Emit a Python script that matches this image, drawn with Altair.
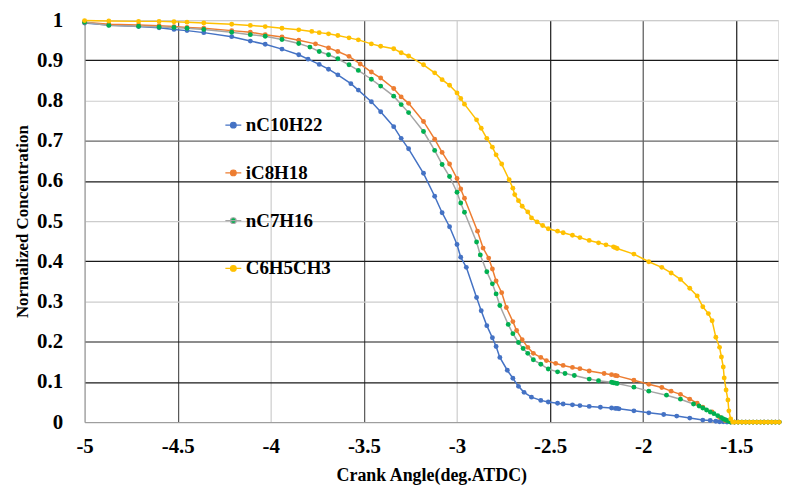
import altair as alt
import pandas as pd

series_names = ["nC10H22", "iC8H18", "nC7H16", "C6H5CH3"]
line_colors = ["#4472C4", "#ED7D31", "#A5A5A5", "#FFC000"]
point_colors = ["#4472C4", "#ED7D31", "#00B050", "#FFC000"]

nc10_x = [-5.0, -4.87, -4.71, -4.60, -4.52, -4.45, -4.36, -4.21, -4.11, -4.03,
          -3.94, -3.85, -3.80, -3.74, -3.69, -3.64, -3.57, -3.53, -3.46, -3.41,
          -3.34, -3.30, -3.26, -3.18, -3.12, -3.08, -3.04, -3.00, -2.98, -2.95,
          -2.895, -2.87, -2.84, -2.81, -2.79, -2.77, -2.73, -2.70, -2.67, -2.64,
          -2.60, -2.55, -2.51, -2.46, -2.43, -2.38, -2.34, -2.29, -2.23, -2.17,
          -2.15, -2.14, -2.13, -2.05, -1.97, -1.89, -1.82, -1.75, -1.68, -1.64,
          -1.61, -1.59, -1.57, -1.55, -1.53]
nc10_y = [0.993, 0.988, 0.984, 0.981, 0.977, 0.974, 0.969, 0.959, 0.948, 0.940,
          0.928, 0.914, 0.903, 0.890, 0.878, 0.864, 0.842, 0.826, 0.797, 0.772,
          0.735, 0.706, 0.680, 0.619, 0.562, 0.521, 0.486, 0.442, 0.410, 0.385,
          0.310, 0.277, 0.240, 0.210, 0.188, 0.161, 0.129, 0.109, 0.089, 0.074,
          0.062, 0.054, 0.050, 0.047, 0.045, 0.043, 0.041, 0.039, 0.037, 0.035,
          0.034, 0.034, 0.033, 0.028, 0.023, 0.019, 0.015, 0.010, 0.005, 0.004,
          0.002, 0.001, 0.001, 0.0, 0.0]

ic8_x = [-5.0, -4.87, -4.71, -4.60, -4.52, -4.45, -4.36, -4.21, -4.11, -4.03,
         -3.94, -3.85, -3.76, -3.69, -3.64, -3.58, -3.52, -3.46, -3.41, -3.34,
         -3.30, -3.26, -3.18, -3.12, -3.08, -3.04, -3.00, -2.98, -2.96, -2.89,
         -2.86, -2.83, -2.81, -2.79, -2.76, -2.735, -2.70, -2.68, -2.65, -2.62,
         -2.59, -2.55, -2.52, -2.47, -2.43, -2.38, -2.34, -2.29, -2.21, -2.17,
         -2.15, -2.14, -2.05, -1.97, -1.90, -1.85, -1.80, -1.75, -1.71, -1.68,
         -1.63, -1.59, -1.56, -1.53]
ic8_y = [0.995, 0.990, 0.988, 0.986, 0.984, 0.982, 0.980, 0.974, 0.970, 0.964,
         0.958, 0.950, 0.941, 0.931, 0.922, 0.910, 0.891, 0.871, 0.856, 0.830,
         0.809, 0.793, 0.748, 0.704, 0.671, 0.642, 0.606, 0.580, 0.557, 0.475,
         0.433, 0.408, 0.381, 0.351, 0.322, 0.285, 0.250, 0.228, 0.205, 0.186,
         0.171, 0.161, 0.153, 0.146, 0.141, 0.136, 0.133, 0.127, 0.121, 0.118,
         0.116, 0.115, 0.104, 0.094, 0.086, 0.077, 0.069, 0.057, 0.047, 0.037,
         0.025, 0.012, 0.004, 0.0]

nc7_x = [-5.0, -4.87, -4.71, -4.60, -4.52, -4.45, -4.36, -4.21, -4.11, -4.03,
         -3.94, -3.85, -3.79, -3.74, -3.69, -3.64, -3.58, -3.53, -3.46, -3.41,
         -3.34, -3.30, -3.26, -3.18, -3.12, -3.08, -3.04, -3.00, -2.98, -2.96,
         -2.895, -2.875, -2.84, -2.81, -2.79, -2.77, -2.725, -2.70, -2.67, -2.645,
         -2.62, -2.59, -2.55, -2.51, -2.46, -2.42, -2.37, -2.29, -2.24, -2.17,
         -2.16, -2.15, -2.14, -2.05, -1.97, -1.875, -1.80, -1.73, -1.70, -1.68,
         -1.66, -1.64, -1.62, -1.60, -1.58, -1.57, -1.56, -1.55, -1.54, -1.53]
nc7_y = [0.995, 0.987, 0.985, 0.983, 0.982, 0.980, 0.977, 0.970, 0.964, 0.960,
         0.952, 0.942, 0.933, 0.922, 0.914, 0.904, 0.889, 0.875, 0.853, 0.836,
         0.811, 0.790, 0.770, 0.723, 0.676, 0.641, 0.611, 0.572, 0.545, 0.522,
         0.448, 0.416, 0.374, 0.344, 0.319, 0.290, 0.243, 0.220, 0.198, 0.183,
         0.171, 0.155, 0.144, 0.132, 0.125, 0.121, 0.116, 0.107, 0.103, 0.099,
         0.098, 0.097, 0.096, 0.087, 0.077, 0.067, 0.057, 0.045, 0.040, 0.035,
         0.030, 0.025, 0.021, 0.016, 0.011, 0.008, 0.006, 0.004, 0.002, 0.0]

c6_x = [-5.0, -4.87, -4.71, -4.60, -4.52, -4.45, -4.36, -4.21, -4.11, -4.03,
        -3.94, -3.85, -3.78, -3.74, -3.69, -3.64, -3.58, -3.53, -3.46, -3.41,
        -3.34, -3.30, -3.26, -3.18, -3.12, -3.08, -3.04, -3.00, -2.98, -2.96,
        -2.895, -2.87, -2.84, -2.81, -2.79, -2.76, -2.72, -2.70, -2.69, -2.67,
        -2.65, -2.62, -2.60, -2.57, -2.54, -2.51, -2.46, -2.43, -2.38, -2.34,
        -2.29, -2.24, -2.20, -2.16, -2.15, -2.14, -2.05, -1.97, -1.90, -1.85,
        -1.80, -1.75, -1.71, -1.68, -1.65, -1.63, -1.61, -1.59, -1.58, -1.57,
        -1.565, -1.555, -1.545, -1.54, -1.53, -1.52]
c6_y = [0.999, 0.998, 0.997, 0.997, 0.996, 0.995, 0.993, 0.990, 0.987, 0.984,
        0.980, 0.976, 0.972, 0.969, 0.966, 0.962, 0.956, 0.951, 0.941, 0.935,
        0.929, 0.919, 0.911, 0.889, 0.869, 0.852, 0.838, 0.819, 0.805, 0.791,
        0.752, 0.731, 0.706, 0.684, 0.665, 0.642, 0.603, 0.582, 0.566, 0.551,
        0.537, 0.523, 0.508, 0.498, 0.489, 0.481, 0.475, 0.471, 0.465, 0.459,
        0.452, 0.446, 0.441, 0.436, 0.434, 0.432, 0.418, 0.399, 0.385, 0.371,
        0.355, 0.333, 0.314, 0.287, 0.270, 0.252, 0.211, 0.186, 0.162, 0.137,
        0.110, 0.080, 0.055, 0.028, 0.008, 0.0]

tail_x = [-1.51, -1.49, -1.47, -1.45, -1.43, -1.41, -1.39, -1.37, -1.35, -1.33,
          -1.31, -1.29, -1.27]
tail_y = [0.0, 0.0, 0.0, 0.0, 0.0, 0.0, 0.0, 0.0, 0.0, 0.0,
          0.0, 0.0, 0.0]

x_ticks = [-5, -4.5, -4, -3.5, -3, -2.5, -2, -1.5]
y_ticks = [0, 0.1, 0.2, 0.3, 0.4, 0.5, 0.6, 0.7, 0.8, 0.9, 1]

rows = []
for name, xs, ys in [("nC10H22", nc10_x, nc10_y), ("iC8H18", ic8_x, ic8_y),
                     ("nC7H16", nc7_x, nc7_y), ("C6H5CH3", c6_x, c6_y)]:
    for xv, yv in zip(xs + tail_x, ys + tail_y):
        rows.append({"series": name, "angle": xv, "conc": yv})
df = pd.DataFrame(rows)

FONT = "'Liberation Serif', 'Times New Roman', Times, serif"

x_grid = {"condition": [
    {"test": "indexof([-2.5, -1.5], datum.value) >= 0", "value": "#1a1a1a"},
    {"test": "indexof([-4.5, -3.5, -2], datum.value) >= 0", "value": "#555555"}],
    "value": "#cccccc"}
y_grid = {"condition": [
    {"test": "indexof([0.1, 0.2, 0.4, 0.6, 0.9], datum.value) >= 0", "value": "#1a1a1a"},
    {"test": "indexof([0.7], datum.value) >= 0", "value": "#666666"}],
    "value": "#cccccc"}

x_enc = alt.X("angle:Q",
              scale=alt.Scale(domain=[-5, -1.276], nice=False, zero=False),
              axis=alt.Axis(values=x_ticks, labelExpr="'' + datum.value", ticks=False,
                            grid=True, gridColor=x_grid, gridWidth=1.2,
                            domainColor="#999999", labelFont=FONT, labelFontSize=21,
                            labelFontWeight="bold", labelColor="black", labelPadding=14,
                            titleFont=FONT, titleFontSize=18, titleFontWeight="bold",
                            titleColor="black", titlePadding=10, labelFlush=False),
              title="Crank Angle(deg.ATDC)")
y_enc = alt.Y("conc:Q",
              scale=alt.Scale(domain=[0, 1], nice=False, zero=True),
              axis=alt.Axis(values=y_ticks, labelExpr="'' + datum.value", ticks=False,
                            grid=True, gridColor=y_grid, gridWidth=1.2,
                            domainColor="#999999", labelFont=FONT, labelFontSize=21,
                            labelFontWeight="bold", labelColor="black", labelPadding=22,
                            titleFont=FONT, titleFontSize=17, titleFontWeight="bold",
                            titleColor="black", titlePadding=5),
              title="Normalized Concentration")

sym = "M-1,0H1M-0.36,0A0.36,0.36,0,1,0,0.36,0A0.36,0.36,0,1,0,-0.36,0Z"
legend = alt.Legend(title=None, orient="none", legendX=140, legendY=96,
                    symbolType=sym, symbolSize=256, symbolStrokeWidth=1.2,
                    labelFont=FONT, labelFontSize=19, labelFontWeight="bold",
                    labelColor="black", rowPadding=28, labelOffset=3, padding=0)

lines = alt.Chart().mark_line(strokeWidth=1.5).encode(
    x=x_enc, y=y_enc,
    stroke=alt.Stroke("series:N", scale=alt.Scale(domain=series_names, range=line_colors),
                      legend=legend),
    order="angle:Q")
points = alt.Chart().mark_point(filled=True, size=24, opacity=1, strokeWidth=0).encode(
    x=x_enc, y=y_enc,
    fill=alt.Fill("series:N", scale=alt.Scale(domain=series_names, range=point_colors),
                  legend=legend))

chart = alt.layer(lines, points, data=df).properties(
    width=697, height=404,
    padding={"left": 5, "top": 0, "right": 0, "bottom": 0}
).configure_view(stroke=None).configure(background="white")

chart.save("out.html", embed_options={"renderer": "svg", "actions": False})
